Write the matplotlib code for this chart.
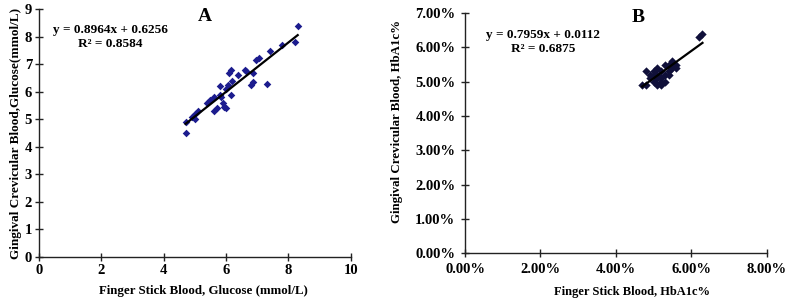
import numpy as np
import matplotlib
matplotlib.use('Agg')
import matplotlib.pyplot as plt
from matplotlib.ticker import FuncFormatter

plt.rcParams['font.family'] = ['Liberation Serif', 'DejaVu Serif']
plt.rcParams['font.weight'] = 'bold'

# ---- panel A: glucose (mmol/L) ----
glu_finger = [4.7, 4.7, 4.9, 5.0, 5.0, 5.1, 5.4, 5.5, 5.6, 5.6, 5.7,
              5.8, 5.8, 5.85, 5.9, 5.95, 6.0, 6.0, 6.05, 6.1, 6.15, 6.15,
              6.2, 6.4, 6.6, 6.65, 6.8, 6.85, 6.85, 6.95, 7.05, 7.3, 7.4,
              7.8, 8.2, 8.3]
glu_gcb = [4.5, 4.9, 5.1, 5.0, 5.2, 5.3, 5.6, 5.7, 5.3, 5.8, 5.4,
           5.9, 6.2, 5.8, 5.6, 5.45, 5.4, 6.1, 6.25, 6.7, 6.8, 5.9,
           6.4, 6.6, 6.8, 6.75, 6.25, 6.35, 6.7, 7.15, 7.25, 6.3, 7.5,
           7.7, 7.8, 8.4]
glu_slope, glu_icpt, glu_r2 = 0.8964, 0.6256, 0.8584

# ---- panel B: HbA1c (fraction) ----
hba_finger = [4.7, 4.8, 4.8, 4.9, 4.9, 5.0, 5.0, 5.0, 5.1, 5.1, 5.1, 5.1,
              5.2, 5.2, 5.2, 5.2, 5.3, 5.3, 5.3, 5.4, 5.4, 5.4, 5.5, 5.5,
              5.5, 5.6, 5.6, 6.2, 6.3]
hba_gcb = [4.9, 4.9, 5.3, 5.2, 5.1, 5.0, 5.2, 5.3, 5.4, 4.9, 5.1, 5.2,
           5.0, 5.3, 4.9, 5.1, 5.2, 5.5, 5.0, 5.3, 5.5, 5.2, 5.6, 5.4,
           5.5, 5.5, 5.4, 6.3, 6.4]
hba_finger = [v / 100 for v in hba_finger]
hba_gcb = [v / 100 for v in hba_gcb]
hba_slope, hba_icpt, hba_r2 = 0.7959, 0.0112, 0.6875

fig = plt.figure(figsize=(7.87, 2.99), dpi=100)
axA = fig.add_axes([0.0496, 0.1405, 0.396, 0.828])
axB = fig.add_axes([0.591, 0.153, 0.383, 0.803])


def style(ax, pad):
    for s in ['top', 'right']:
        ax.spines[s].set_visible(False)
    for s in ['left', 'bottom']:
        ax.spines[s].set_linewidth(1.0)
        ax.spines[s].set_color('#222222')
    ax.tick_params(direction='inout', length=6, width=1.0, labelsize=10.5,
                   color='#222222', pad=pad)
    for lab in ax.get_xticklabels() + ax.get_yticklabels():
        lab.set_fontweight('bold')


# panel A
axA.scatter(glu_finger, glu_gcb, marker='D', s=15, color='#1c1c8e',
            linewidths=0, zorder=3)
xs = np.array([min(glu_finger), max(glu_finger)])
axA.plot(xs, glu_slope * xs + glu_icpt, color='black', lw=1.6, zorder=4)
axA.set_xlim(0, 10)
axA.set_ylim(0, 9)
axA.set_xticks([0, 2, 4, 6, 8, 10])
axA.set_yticks(range(0, 10))
style(axA, 2)
axA.set_xlabel('Finger Stick Blood, Glucose (mmol/L)', fontsize=9.3,
               fontweight='bold')
axA.xaxis.set_label_coords(0.526, -0.115)
axA.set_ylabel('Gingival Crevicular Blood,Glucose(mmol/L)', fontsize=9.5,
               fontweight='bold', labelpad=2)
axA.text(0.228, 0.89, 'y = %.4fx + %.4f\nR² = %.4f' % (glu_slope, glu_icpt, glu_r2),
         transform=axA.transAxes, ha='center', va='center', fontsize=9.5,
         fontweight='bold', linespacing=1.25)
axA.text(0.532, 0.972, 'A', transform=axA.transAxes, ha='center', va='center',
         fontsize=14, fontweight='bold')

# panel B
axB.scatter(hba_finger, hba_gcb, marker='D', s=18, color='#10103a',
            linewidths=0, zorder=3)
xs = np.array([min(hba_finger), max(hba_finger)])
axB.plot(xs, hba_slope * xs + hba_icpt, color='black', lw=1.6, zorder=4)
axB.set_xlim(0, 0.08)
axB.set_ylim(0, 0.07)
axB.set_xticks([0, 0.02, 0.04, 0.06, 0.08])
axB.set_yticks(np.arange(0, 0.071, 0.01))
pct = FuncFormatter(lambda v, p: '%.2f%%' % (v * 100))
axB.xaxis.set_major_formatter(pct)
axB.yaxis.set_major_formatter(pct)
style(axB, 4)
axB.set_xlabel('Finger Stick Blood, HbA1c%', fontsize=9,
               fontweight='bold')
axB.xaxis.set_label_coords(0.553, -0.135)
axB.set_ylabel('Gingival Crevicular Blood, HbA1c%', fontsize=9.3,
               fontweight='bold')
axB.yaxis.set_label_coords(-0.205, 0.55)
axB.text(0.259, 0.88, 'y = %.4fx + %.4f\nR² = %.4f' % (hba_slope, hba_icpt, hba_r2),
         transform=axB.transAxes, ha='center', va='center', fontsize=9.5,
         fontweight='bold', linespacing=1.25)
axB.text(0.573, 0.98, 'B', transform=axB.transAxes, ha='center', va='center',
         fontsize=14, fontweight='bold')

fig.savefig('out.png', dpi=100)
